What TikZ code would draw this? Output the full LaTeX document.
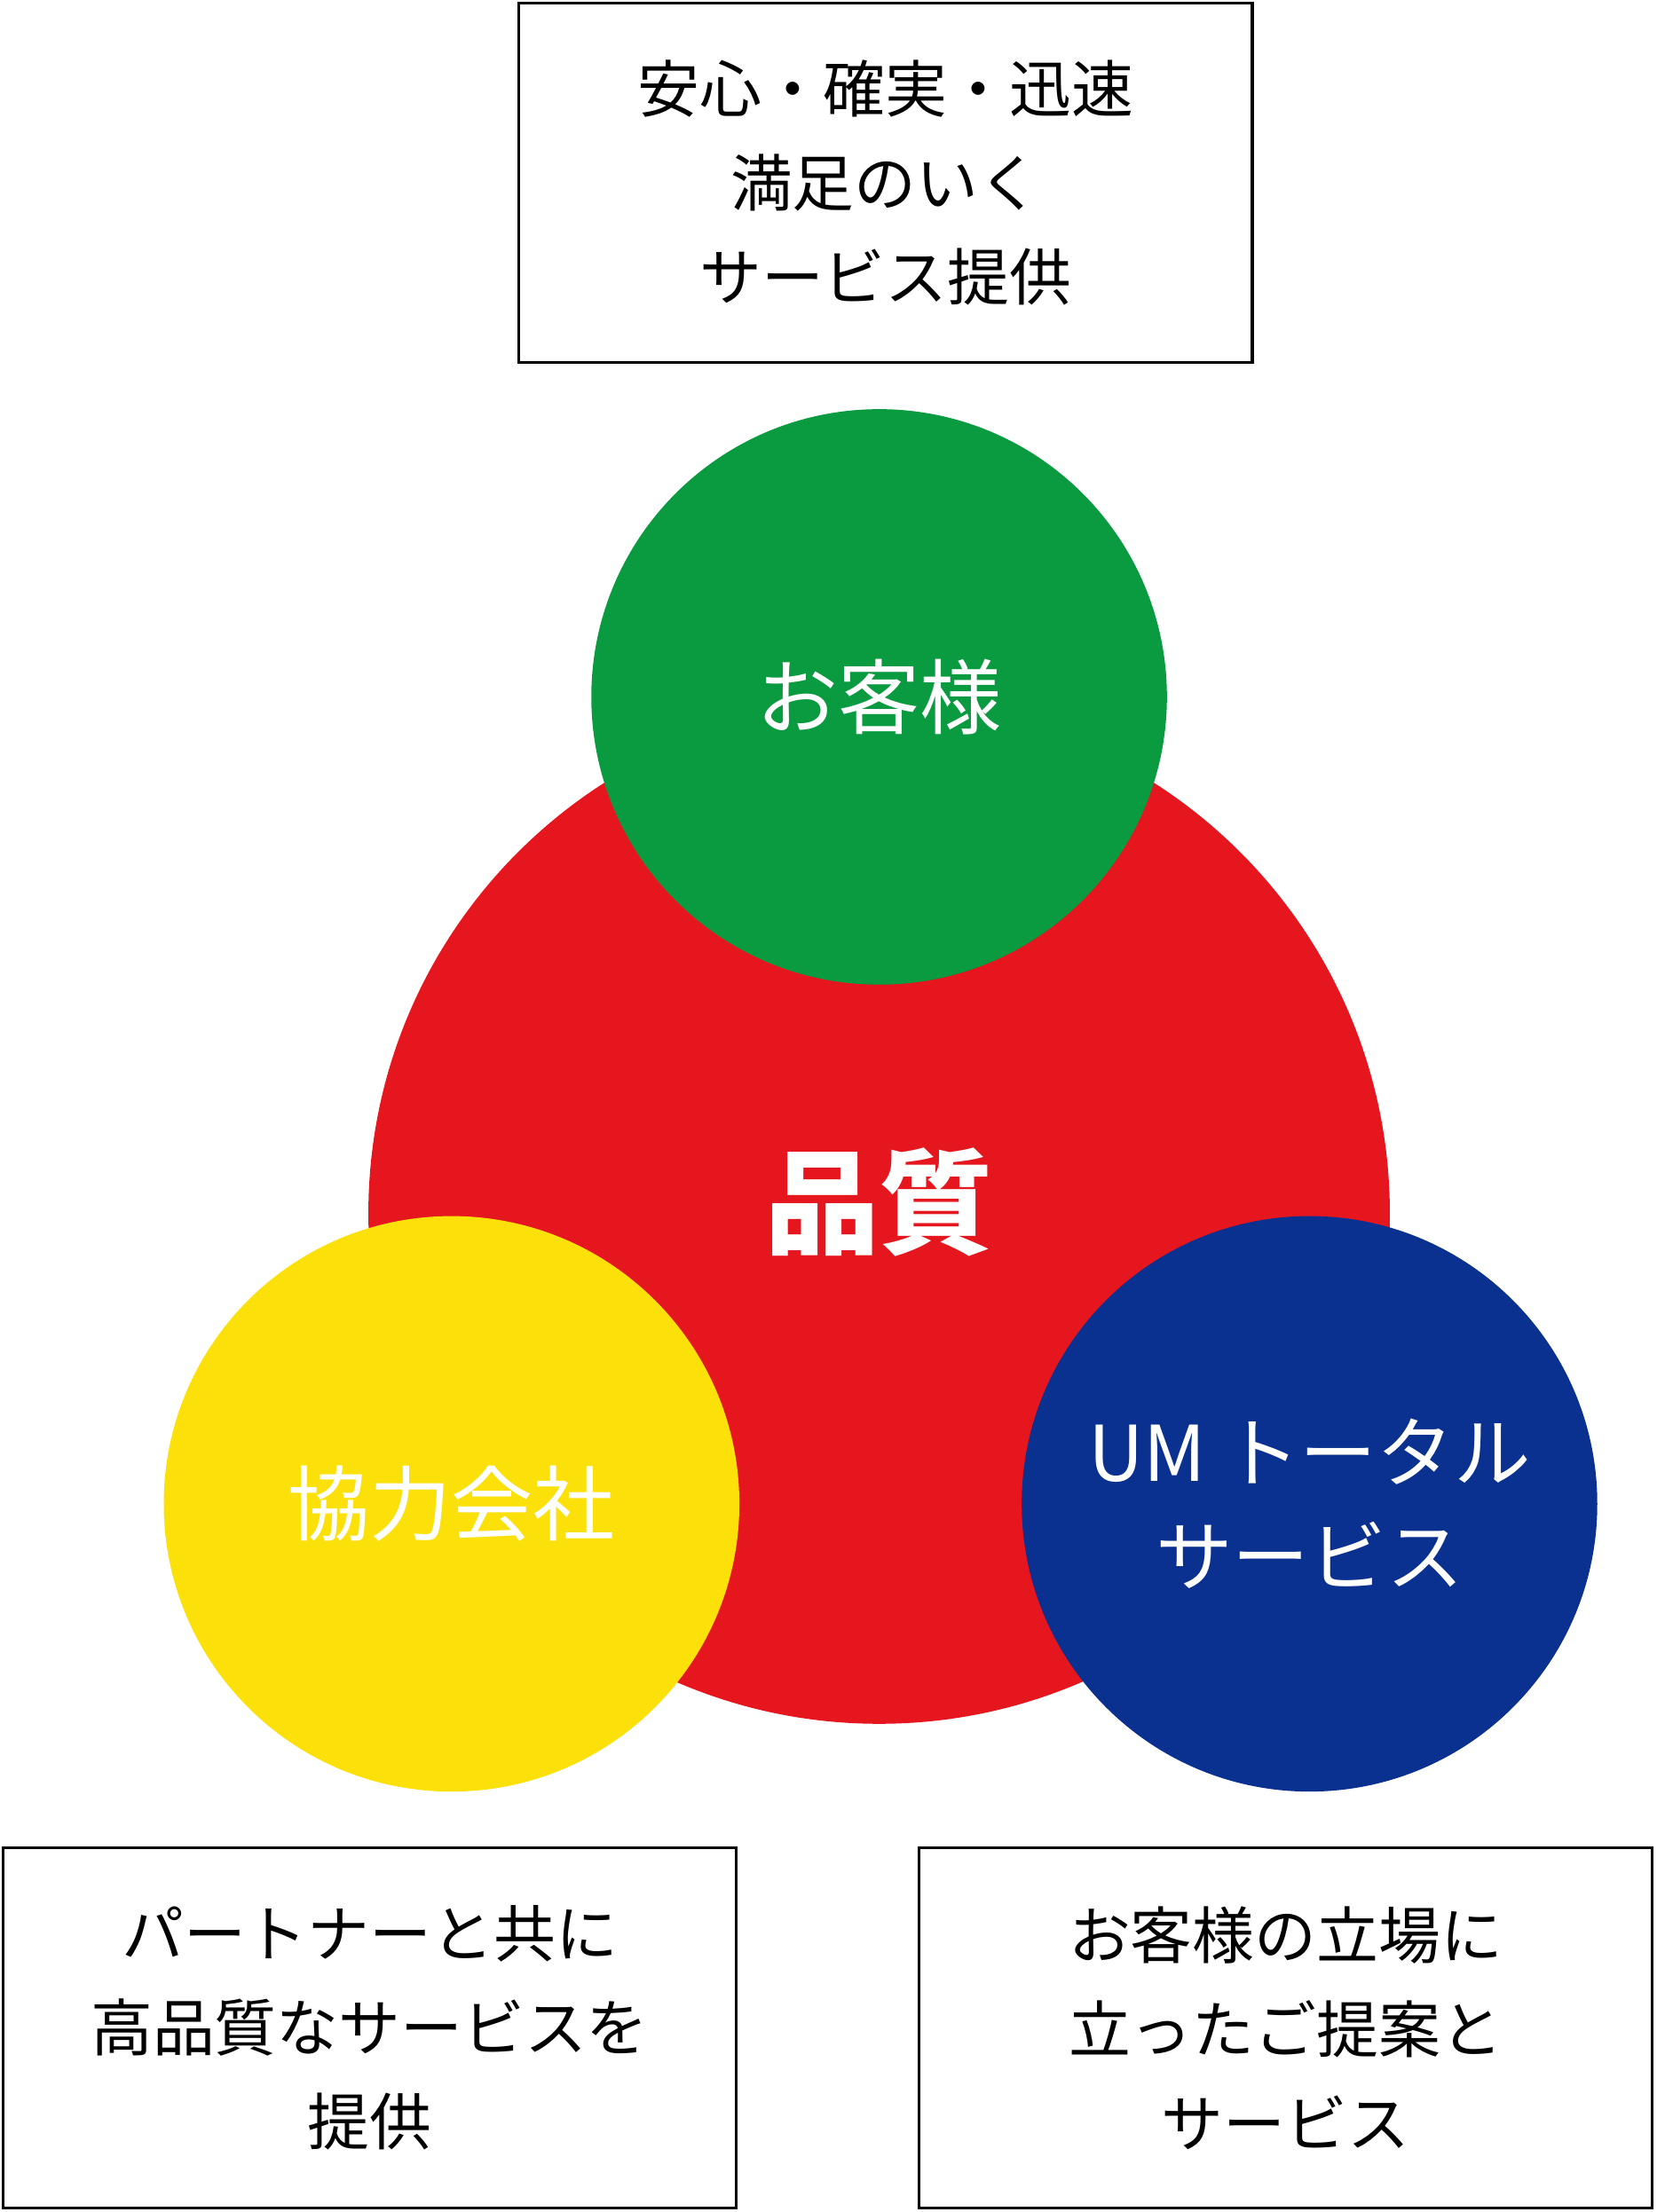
\documentclass[tikz,border=0pt]{standalone}
\usepackage{fontspec}
\setmainfont{Noto Sans CJK JP}
\newfontfamily\jpbold[BoldFont={* Bold}]{Noto Sans CJK JP}
\usetikzlibrary{positioning}
\definecolor{hinred}{HTML}{E6161E}
\definecolor{kyakugreen}{HTML}{0A9A3F}
\definecolor{kyoyellow}{HTML}{FCE00A}
\definecolor{umblue}{HTML}{0A318F}
\tikzset{
  bigcirc/.style={circle,inner sep=0pt,minimum size=14.48cm,fill=hinred},
  subcirc/.style={circle,inner sep=0pt,minimum size=8.16cm,text=white,
    align=center,font=\fontsize{33}{44}\selectfont},
  msgbox/.style={draw=black,line width=1.1pt,align=center,
    minimum width=10.4cm,minimum height=5.1cm,inner sep=0pt,
    font=\fontsize{25}{38}\selectfont}
}
\begin{document}
\begin{tikzpicture}[x=0.02cm,y=-0.02cm]
\useasboundingbox (0,0) rectangle (1174,1568);
% center circle
\node[bigcirc] (hinshitsu) at (623,860) {};
\node[text=white,font=\fontsize{46}{50}\selectfont\bfseries] (hinlabel) at (623,852) {品質};
% three circles
\node[subcirc,fill=kyakugreen] (kyaku) at (623,494) {お客様};
\node[subcirc,fill=kyoyellow] (kyoryoku) at (320,1066) {協力会社};
\node[subcirc,fill=umblue,font=\fontsize{31}{42}\selectfont] (umtotal) at (928,1066) {UM トータル\\サービス};
% boxes
\node[msgbox] (topbox) at (627.5,129.5) {安心・確実・迅速\\満足のいく\\サービス提供};
\node[msgbox] (leftbox) at (262,1437.5) {パートナーと共に\\高品質なサービスを\\提供};
\node[msgbox] (rightbox) at (911,1437.5) {お客様の立場に\\立ったご提案と\\サービス};
\end{tikzpicture}
\end{document}
